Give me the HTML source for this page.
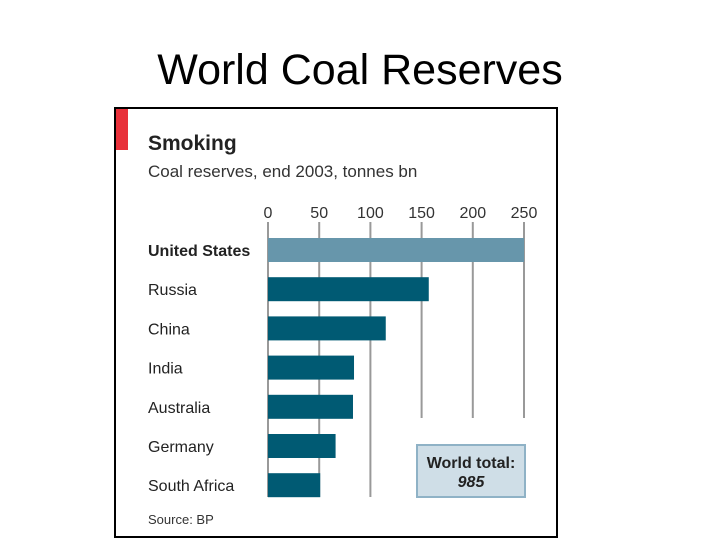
<!DOCTYPE html>
<html><head><meta charset="utf-8"><style>
body{margin:0;width:720px;height:540px;background:#fff;overflow:hidden;font-family:"Liberation Sans",sans-serif}
svg{position:absolute;left:0;top:0}
</style></head><body>
<svg width="720" height="540">
<text x="360" y="84" font-size="43" text-anchor="middle" fill="#000">World Coal Reserves</text>
<rect x="115" y="108" width="442" height="429" fill="#fff" stroke="#000" stroke-width="2"/>
<rect x="116" y="109" width="12" height="41" fill="#e8313a"/>
<text x="148" y="150" font-size="21" font-weight="bold" fill="#222">Smoking</text>
<text x="148" y="177" font-size="17" fill="#333">Coal reserves, end 2003, tonnes bn</text>
<g id="grid"></g>
<g id="bars"></g>
<rect x="417" y="445" width="108" height="52" fill="#cfdee7" stroke="#8fb2c6" stroke-width="2"/>
<text x="471" y="468" font-size="16" font-weight="bold" text-anchor="middle" fill="#222">World total:</text>
<text x="471" y="487" font-size="16" font-weight="bold" font-style="italic" text-anchor="middle" fill="#222">985</text>
<text x="148" y="524" font-size="13" fill="#333">Source: BP</text>
</svg>
<script>
const categories=["United States","Russia","China","India","Australia","Germany","South Africa"];
const values=[250,157,115,84,83,66,51];
const ticks=[0,50,100,150,200,250];
const NS="http://www.w3.org/2000/svg";
const x=v=>268+v*1.024;
const y=i=>238+i*39.2;
const grid=document.getElementById('grid'),bars=document.getElementById('bars');
function mk(t,a){const e=document.createElementNS(NS,t);for(const k in a)e.setAttribute(k,a[k]);return e;}
ticks.forEach(t=>{
  const l=mk('line',{x1:x(t),x2:x(t),y1:222,y2:t<=100?497:418,stroke:'#999','stroke-width':2});
  
  
  grid.appendChild(l);
  const tx=mk('text',{x:x(t),y:218,'font-size':16,'text-anchor':'middle',fill:'#333'});
  tx.textContent=t;
  
  
  grid.appendChild(tx);
});
categories.forEach((c,i)=>{
  const r=mk('rect',{x:x(0),y:y(i),width:x(values[i])-x(0),height:24,fill:i==0?'#6796ab':'#005a73'});
  
  
  bars.appendChild(r);
  const t=mk('text',{x:148,y:y(i)+18,'font-size':16,fill:'#222','font-weight':i==0?'bold':'normal'});
  t.textContent=c;
  
  
  bars.appendChild(t);
});
</script>
</body></html>
